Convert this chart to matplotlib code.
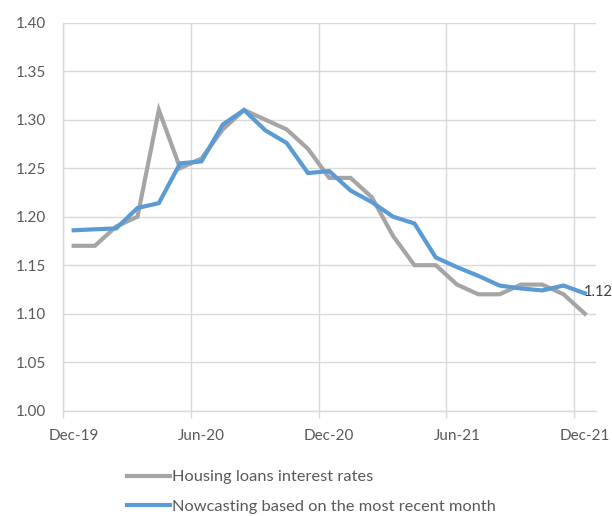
import matplotlib
matplotlib.use("Agg")
import matplotlib.pyplot as plt
from matplotlib.ticker import MultipleLocator, FixedLocator

plt.rcParams['font.family'] = ['Lato', 'DejaVu Sans']

months = ["Dec-19", "Jan-20", "Feb-20", "Mar-20", "Apr-20", "May-20", "Jun-20", "Jul-20",
          "Aug-20", "Sep-20", "Oct-20", "Nov-20", "Dec-20", "Jan-21", "Feb-21", "Mar-21",
          "Apr-21", "May-21", "Jun-21", "Jul-21", "Aug-21", "Sep-21", "Oct-21", "Nov-21", "Dec-21"]
housing = [1.17, 1.17, 1.19, 1.20, 1.31, 1.25, 1.26, 1.29, 1.31, 1.30, 1.29, 1.27, 1.24,
           1.24, 1.22, 1.18, 1.15, 1.15, 1.13, 1.12, 1.12, 1.13, 1.13, 1.12, 1.10]
nowcast = [1.186, 1.187, 1.188, 1.209, 1.214, 1.255, 1.257, 1.295, 1.310, 1.289, 1.276, 1.245,
           1.247, 1.227, 1.215, 1.200, 1.193, 1.158, 1.148, 1.139, 1.129, 1.126, 1.124, 1.129, 1.121]
tick_labels = ["Dec-19", "Jun-20", "Dec-20", "Jun-21", "Dec-21"]

text_color = "#595959"
grid_color = "#D9D9D9"

fig = plt.figure(figsize=(6.12, 5.16), dpi=100)
ax = fig.add_axes([63/612, 1 - 410.7/516, (595.5-63)/612, (410.7-22.7)/516])

x = list(range(len(months)))
ax.plot(x, housing, color="#A5A5A5", lw=3.0, solid_joinstyle="miter", label="Housing loans interest rates", zorder=3)
ax.plot(x, nowcast, color="#5B9BD5", lw=3.0, solid_joinstyle="miter", label="Nowcasting based on the most recent month", zorder=4)

ax.annotate(f"{nowcast[-1]:.2f}", (x[-1], nowcast[-1]), xytext=(-1, 1), textcoords="offset points",
            ha="left", va="center", fontsize=10.5, color="#404040", annotation_clip=False, zorder=5)

ax.set_xlim(-0.5, len(months) - 0.5)
ax.set_ylim(1.0, 1.4)
ax.yaxis.set_major_locator(MultipleLocator(0.05))
ax.yaxis.set_major_formatter(matplotlib.ticker.FormatStrFormatter("%.2f"))

label_pos = [months.index(m) for m in tick_labels]
ax.set_xticks(label_pos)
ax.set_xticklabels(tick_labels)
ax.xaxis.set_minor_locator(FixedLocator([p - 0.5 for p in label_pos]))
ax.tick_params(axis="x", which="major", length=0, pad=13, labelsize=11, labelcolor=text_color)
ax.tick_params(axis="x", which="minor", length=5, color=grid_color, width=1)
ax.tick_params(axis="y", length=0, pad=12, labelsize=11, labelcolor=text_color)

ax.grid(axis="y", color=grid_color, lw=1)
ax.grid(axis="x", which="minor", color=grid_color, lw=1)
ax.set_axisbelow(True)
for s in ["top", "right"]:
    ax.spines[s].set_visible(False)
for s in ["left", "bottom"]:
    ax.spines[s].set_color(grid_color)
    ax.spines[s].set_linewidth(1)

fig.legend(loc="upper left", bbox_to_anchor=(127/612, 1 - 470/516), frameon=False,
           fontsize=11.8, labelcolor=text_color, handlelength=2.6, handletextpad=0.15,
           labelspacing=0.9, borderaxespad=0, borderpad=0)

fig.savefig("out.png", dpi=100)
